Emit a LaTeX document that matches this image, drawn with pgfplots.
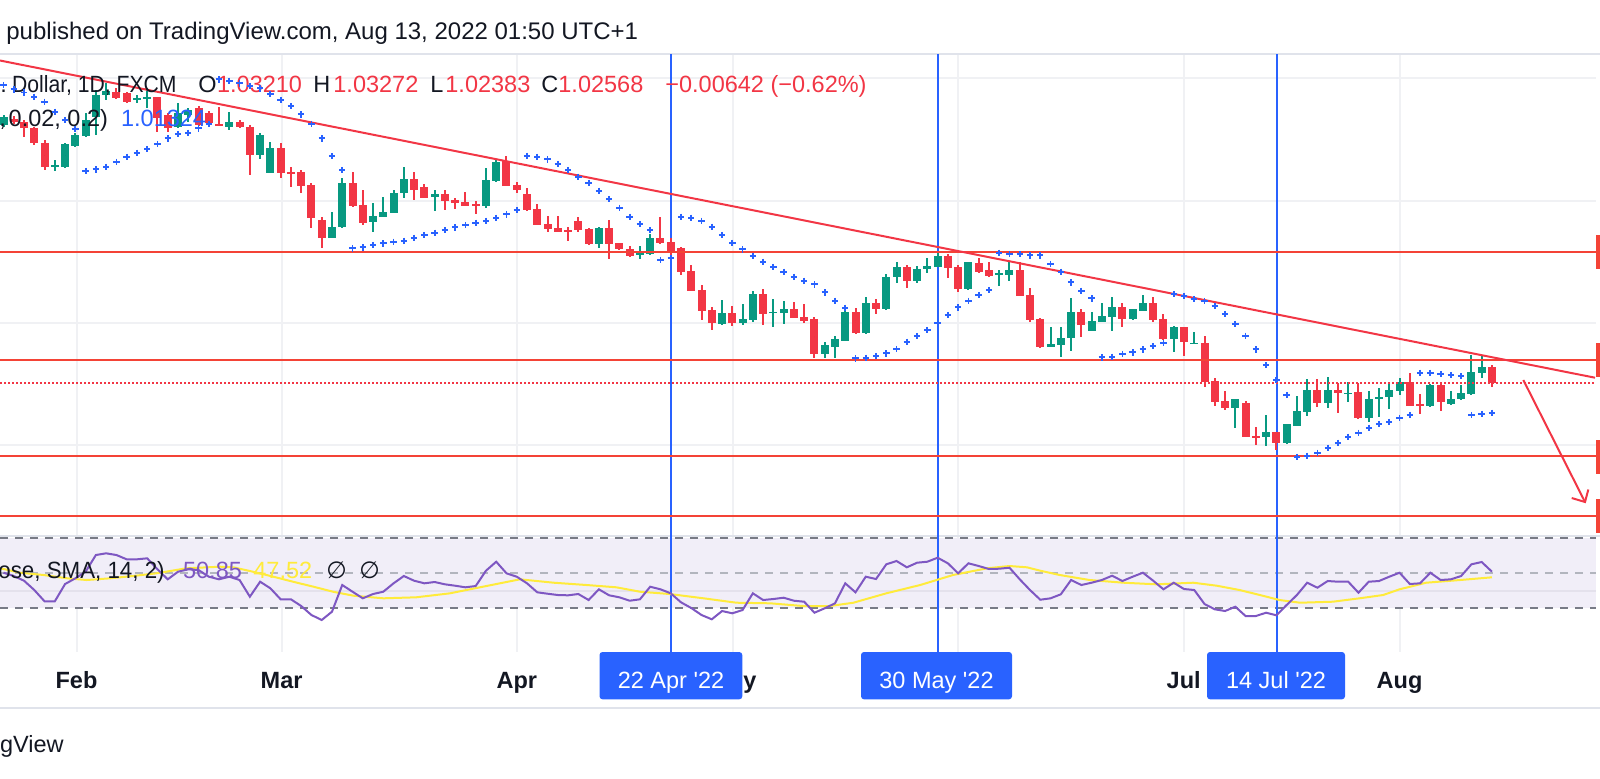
\documentclass[border=0pt]{standalone}
\usepackage{graphicx}
\usepackage{pgfplots}
\pgfplotsset{compat=1.18}
\usepackage{pgfplotstable}
\usepackage{fontspec}
\setmainfont{Liberation Sans}
\newfontfamily\dejavu{DejaVu Sans}
\definecolor{tvgreen}{HTML}{089981}
\definecolor{tvred}{HTML}{F23645}
\definecolor{hred}{HTML}{F44336}
\definecolor{tvblue}{HTML}{2962FF}
\definecolor{tvtext}{HTML}{131722}
\definecolor{rsiP}{HTML}{7E57C2}
\definecolor{smaY}{HTML}{FFEB3B}
\definecolor{rsibg}{HTML}{F1EEF8}
\definecolor{gridc}{HTML}{F0F1F4}
\definecolor{sepc}{HTML}{E0E3EB}
\definecolor{dashd}{HTML}{787B86}
\definecolor{dashl}{HTML}{B2B5BE}
\definecolor{rsigrid}{HTML}{E4E1EC}
\newcommand\tvf{\fontsize{11.75pt}{14pt}\selectfont}
\newcommand\tvh{\fontsize{12pt}{14pt}\selectfont}

% candles: i open high low close (pixel rows of the picture)
\pgfplotstableread{
i o h l c
0 125 115 127 117
5 166.7 160 170.7 165
6 167.3 143 168 144.3
7 146 133.3 147.3 135
8 136 113 137 120
9 116.7 90 135 95
10 95 83.3 100 90.7
13 100 95 103.3 97.7
14 98.7 88.3 108.3 96.7
17 126.7 103 128 113
18 115 108 122 110
22 126.7 111.7 130 121.7
25 155 133 159 135
26 172.7 141.7 173 148.3
32 237.7 211.7 238 227.3
33 227.3 178.3 228 183.3
36 221.7 202.7 231.7 216
37 216.7 196.7 217.3 211.7
38 213.3 190 213.3 192.7
39 193.3 167.3 198.3 179.3
42 197.3 190 210.7 194
47 206 168.3 208.3 180
48 181 159 182 161.7
58 244 227 247.7 227.7
62 255 246 259 252.3
63 254 234.3 254.5 237.7
70 324 300 325 313.3
72 322.7 304 325 319
73 320 290.7 321.7 294
75 312.8 299.3 326.7 311.8
76 312.7 301 324 309
80 354 341.7 358 345
81 347.3 336 358 339.3
82 340.7 306.7 341 311.7
84 333.3 296.7 334 302.7
86 309 274.3 309.5 276.7
87 277.3 261.7 283.3 266.7
89 280.7 266 283 269
90 269.3 257.7 273.3 265.7
91 266.7 253.3 267 255.7
94 289 262 289.5 262.3
97 274.7 270 285.7 273.3
98 275 261.7 280.7 270
102 346.7 327.3 347.3 344.3
103 345 327.3 357.3 338.3
104 338.3 298.3 350.7 311.7
106 330.7 311.7 331 321
107 321.7 302.7 322 316
108 316.7 296.7 330.7 307.3
110 319.3 309 320 309
111 310.7 295 311 302.7
114 339 326 351.7 326.7
116 343.8 331.7 344 343
120 407.7 399 427.7 399.3
123 437.3 415 445.7 432.3
125 443.3 425 443.5 424
126 425.7 396 426 411
127 411.7 379 415.7 390
129 402.7 377.3 407.7 390
131 394 382.3 401.7 392.7
133 417.7 391 421.7 399.3
134 399 388.3 416.7 397.3
135 397.3 383.3 409.3 390
136 390.7 378.3 395 382.3
139 405.7 384.3 407.3 385
141 404 391 404.5 399
142 399.3 385 399.5 392.7
143 394.3 355 395 372.3
144 372.7 356 377.7 367.3
}\greentab

\pgfplotstableread{
i o h l c
1 119 116 124 122
2 121.7 120 136.7 128.3
3 128.3 127 145 143.3
4 142.7 140 170 167.3
11 91.7 88.3 99.3 98.3
12 92.7 91.7 103.3 101.7
15 96.7 96.7 131.7 118.3
16 115 113 131.7 128
19 108 106 126 125
20 113 111 124 123
21 124 106.7 126 125.5
23 121.7 120 128 127.3
24 126.7 125 175 155
27 148.3 143 178 172.7
28 171.7 166.7 186.7 173.3
29 171.7 170 193.3 185.7
30 185 183 228.3 218.3
31 220 216.7 247.7 237.7
34 183.3 171.7 207 206
35 205 190 225 223.3
40 179 172.3 200 190
41 186.7 184.3 198 197.7
43 194 190 210 200.7
44 200 197.7 209 203.3
45 202.3 192.3 206 205.7
46 204.5 201 214.3 205.5
49 160.7 156 186 185.7
50 185 182.3 193.3 190
51 194 188.3 210.7 210
52 209 204.3 225.3 225
53 224 216 231.7 229
54 228 216 232.3 232.3
55 230 227.3 240.7 231
56 220.7 217.3 231.7 230
57 229 228 245 244
59 228.3 220 259.3 244
60 243.3 243 250 249.3
61 249 246 256.7 255.7
64 238.3 217.3 244.3 242.7
65 242.3 237.7 255.7 251.7
66 248.3 246.7 275 271.7
67 271 265 291 290.7
68 290 285 320 310.7
69 310 306.7 330 323.3
71 313.3 306 325.7 322.7
74 294 289 325 314
77 309 302.3 318 317.5
78 316.7 304 322.7 320.7
79 319 316.7 358.3 354
83 311.7 307.7 333.5 333.3
85 303.3 299.3 314 309
88 266.7 265 288.3 280.7
92 255.7 254 278.3 267.7
93 266.7 265 291.7 289
95 262.7 257.7 272.7 271.7
96 270 262.3 277.3 276
99 270 261.7 296 295.7
100 295 288.3 321.7 320
101 319.3 318.3 348.3 346.7
105 311.7 309 336.7 325
109 307.3 302.7 326.7 319.3
112 302.7 297 322 319.7
113 319 314 340 338.7
115 327.3 326.5 356 341.7
117 342.7 336 387.3 381.7
118 381 378.3 406 401.7
119 401 391 410 408.3
121 402.7 401 436.8 436.7
122 436.2 426.7 445 437
124 432.3 432 450 442.7
128 390 379 406.7 402.7
130 390 383.3 413.3 393.3
132 392.3 383.3 419 417.7
137 382.3 373.3 405.7 405.7
138 404.5 394.3 414.3 405.5
140 385 384 410.7 401.7
145 367.3 365 386.7 382.7
}\redtab

% parabolic SAR
\pgfplotstableread{
i s
0 85
1 89.3
2 92.5
3 96.7
4 101.7
5 111.7
6 120
7 129
8 170.7
9 169.3
10 166.7
11 161.7
12 156.7
13 152.7
14 149
15 144
16 138.3
17 134
18 132.7
19 128.3
20 124
21 79.3
22 80.7
23 83.3
24 86
25 88.3
26 94
27 100
28 106
29 114.3
30 124
31 138.3
32 156
33 170
34 248.3
35 247.3
36 245
37 243.3
38 241.7
39 240.7
40 237.7
41 235
42 232.7
43 230
44 227.3
45 225
46 222.7
47 220.7
48 217.7
49 214.3
50 210
51 155.7
52 156.7
53 159.3
54 164
55 170
56 176.7
57 182.7
58 190.7
59 199
60 207.7
61 216.7
62 224
63 230
64 260
65 258.3
66 216.7
67 217.7
68 220.7
69 226.7
70 235
71 242.7
72 249.3
73 255.7
74 261.7
75 266.7
76 271.7
77 276.7
78 280.7
79 284.3
80 292.3
81 300.7
82 307.7
83 358.3
84 357.7
85 356
86 353.3
87 349
88 341.7
89 336
90 330
91 322.7
92 315
93 307.3
94 300.7
95 295
96 290
97 252.7
98 254
99 254
100 255.3
101 255.3
102 264
103 271.7
104 282.3
105 290.7
106 298.3
107 357.3
108 356.7
109 354
110 352.3
111 349.3
112 346
113 342.7
114 294
115 295.7
116 299
117 301
118 305.7
119 314
120 324
121 335.7
122 349.3
123 365
124 380
125 395
126 456.7
127 455.7
128 452.7
129 447.7
130 442.7
131 436.7
132 432.7
133 427.7
134 424
135 421.7
136 417.7
137 415
138 372.7
139 372.7
140 374
141 375
142 376
143 415
144 413.7
145 412.7
}\sartab

% RSI
\pgfplotstableread{
i r
0 572.7
1 576
2 580.7
3 590
4 601.3
5 601.3
6 584
7 578.3
8 571.7
9 555
10 553.3
11 555
12 559.3
13 559.3
14 558.3
15 569.3
16 579.3
17 571.7
18 569.3
19 570
20 576.7
21 579.3
22 576.7
23 580
24 596.7
25 581.7
26 588.3
27 599.3
28 599.3
29 606
30 615
31 620
32 611.7
33 585
34 591.7
35 598.3
36 594
37 591.7
38 583.3
39 576
40 580.7
41 583.3
42 582
43 584.3
44 585.7
45 587.3
46 586
47 570.7
48 561.7
49 573.3
50 576.7
51 583.3
52 592.3
53 593.7
54 595
55 595.3
56 594
57 600
58 589.3
59 595.3
60 597.3
61 600.7
62 599.3
63 586.7
64 589.3
65 593.3
66 602.3
67 608
68 615
69 619.3
70 611
71 613.3
72 610
73 593.3
74 600
75 599
76 597.7
77 600.7
78 601.7
79 612.7
80 608.3
81 603.3
82 583.3
83 592.3
84 576.7
85 579
86 564.3
87 561
88 567.3
89 562.7
90 561.7
91 557.7
92 563.3
93 573.3
94 563.3
95 566
96 569
97 568.7
98 567.7
99 579.3
100 590
101 599.7
102 598.3
103 594.3
104 580
105 585
106 582.7
107 580
108 575.7
109 581
110 576.7
111 572.7
112 580.7
113 589.3
114 582.7
115 589
116 590
117 604
118 609.3
119 611
120 606.7
121 616
122 616
123 612.7
124 615.3
125 605
126 595
127 582.7
128 587.7
129 581
130 581.7
131 581.7
132 592.7
133 581.7
134 581
135 576.7
136 572.7
137 584
138 583.3
139 572.7
140 580
141 579.3
142 576
143 564.3
144 562
145 571.7
}\rsitab

% SMA of RSI
\pgfplotstableread{
i m
-0.3 568.3
1.6 572.7
3.9 575
6.2 578.3
8.1 580
10.4 578.3
12.6 576
14.9 573.3
17.8 568.3
21.1 566.7
22.4 567.3
24.3 571.7
26.3 576.7
28.2 581.7
30.2 586.7
32.1 591.7
34.1 595.7
37 598.3
40.2 597.3
43.5 593.3
46.7 586.7
50.3 579.3
53.6 582.7
56.8 585
59.7 587.3
62 591.7
64.9 594
68.2 598.3
71.4 602.7
74.7 603.3
77.9 606
80.5 606
82.8 602.7
86 593.3
89.3 585
92.5 575
95.8 568.3
98 566
99.7 567.3
101 570.7
102.9 575
105.8 580
109.1 582.7
112.3 584.3
115.9 582.7
118.2 585.7
120.4 590
122.4 595
124.3 600
126.3 602.7
129.5 601.7
132.1 598.3
134.4 595
136 589.3
138.6 582.7
141.9 580
145 577.3
}\smatab

\pgfplotsset{
  candlewick/.style={only marks, mark=*, mark size=0pt,
    mark options={draw=none, fill=none}, forget plot,
    error bars/.cd, y dir=both, y explicit, error mark=none,
    error bar style={draw=#1, line width=1pt}},
  candlebody/.style={only marks, mark=*, mark size=0pt,
    mark options={draw=none, fill=none}, forget plot,
    error bars/.cd, y dir=both, y explicit, error mark=none,
    error bar style={draw=#1, line width=4pt}},
}

\begin{document}
\begin{tikzpicture}
\useasboundingbox (0,0) rectangle (800pt,389pt);
\clip (0,0) rectangle (800pt,389pt);
\begin{axis}[at={(0,0)}, anchor=south west, scale only axis,
  width=800pt, height=389pt, xmin=0, xmax=1600, ymin=0, ymax=778,
  y dir=reverse, axis lines=none, ticks=none, clip=false]

% grid
\pgfplotsinvokeforeach{76.5,281.6,516.8,733,958,1183.7,1399.5}{
  \addplot[gridc, line width=1pt, forget plot] coordinates {(#1,54) (#1,652)};}
\pgfplotsinvokeforeach{78.3,200.5,323,444.7}{
  \addplot[gridc, line width=1pt, forget plot] coordinates {(0,#1) (1596,#1)};}

% RSI pane band
\addplot[fill=rsibg, draw=none] coordinates {(0,538.3) (1596,538.3) (1596,607.7) (0,607.7)} -- cycle;
\addplot[rsigrid, line width=1pt] coordinates {(0,590.7) (1596,590.7)};
\addplot[dashd, line width=1pt, dash pattern=on 4pt off 3.5pt] coordinates {(0,538.3) (1596,538.3)};
\addplot[dashd, line width=1pt, dash pattern=on 4pt off 3.5pt] coordinates {(0,607.7) (1596,607.7)};
\addplot[dashl, line width=1pt, dash pattern=on 4pt off 3.5pt] coordinates {(0,572.7) (1596,572.7)};

% separators
\addplot[sepc, line width=1pt] coordinates {(0,53.8) (1600,53.8)};
\addplot[sepc, line width=1pt] coordinates {(0,536) (1600,536)};
\addplot[sepc, line width=1pt] coordinates {(0,707.7) (1600,707.7)};

% blue vertical markers
\pgfplotsinvokeforeach{671,937.8,1277}{
  \addplot[tvblue, line width=1pt, forget plot] coordinates {(#1,54) (#1,652)};}

% candles
\addplot[candlewick=tvgreen] table[x expr={3.5+10.265*\thisrow{i}}, y expr={(\thisrow{h}+\thisrow{l})/2}, y error expr={(\thisrow{l}-\thisrow{h})/2}] {\greentab};
\addplot[candlewick=tvred] table[x expr={3.5+10.265*\thisrow{i}}, y expr={(\thisrow{h}+\thisrow{l})/2}, y error expr={(\thisrow{l}-\thisrow{h})/2}] {\redtab};
\addplot[candlebody=tvgreen] table[x expr={3.5+10.265*\thisrow{i}}, y expr={(\thisrow{o}+\thisrow{c})/2}, y error expr={max(abs(\thisrow{o}-\thisrow{c})/2,0.8)}] {\greentab};
\addplot[candlebody=tvred] table[x expr={3.5+10.265*\thisrow{i}}, y expr={(\thisrow{o}+\thisrow{c})/2}, y error expr={max(abs(\thisrow{o}-\thisrow{c})/2,0.8)}] {\redtab};

% parabolic SAR
\addplot[only marks, mark=+, mark size=1.6pt, tvblue, line width=0.9pt] table[x expr={3.5+10.265*\thisrow{i}}, y=s] {\sartab};

% horizontal levels
\pgfplotsinvokeforeach{251.6,359.6,456.4,515.7}{
  \addplot[hred, line width=1pt, forget plot] coordinates {(0,#1) (1596,#1)};}
\addplot[tvred, line width=1pt, dash pattern=on 1pt off 1pt] coordinates {(0,382.5) (1596,382.5)};
% price-scale tags (cropped)
\addplot[fill=hred, draw=none] coordinates {(1596,235) (1600,235) (1600,268.5) (1596,268.5)} -- cycle;
\addplot[fill=hred, draw=none] coordinates {(1596,343) (1600,343) (1600,376.8) (1596,376.8)} -- cycle;
\addplot[fill=hred, draw=none] coordinates {(1596,440) (1600,440) (1600,473.6) (1596,473.6)} -- cycle;
\addplot[fill=hred, draw=none] coordinates {(1596,499) (1600,499) (1600,532.5) (1596,532.5)} -- cycle;

% trend line and arrow
\addplot[tvred, line width=1pt] coordinates {(0,60.5) (1595,377.7)};
\addplot[tvred, line width=1pt] coordinates {(1523.3,380) (1585,502)};
\addplot[tvred, line width=1pt, line join=miter] coordinates {(1571.7,498) (1585,502) (1588.3,489.5)};

% RSI and its SMA
\addplot[smaY, line width=1pt] table[x expr={3.5+10.265*\thisrow{i}}, y=m] {\smatab};
\addplot[rsiP, line width=1pt] table[x expr={3.5+10.265*\thisrow{i}}, y=r] {\rsitab};

% header and legends
\node[anchor=base west, text=tvtext, font=\tvh, inner sep=0pt] at (axis cs:6,39.3) {published on TradingView.com, Aug 13, 2022 01:50 UTC+1};
\node[anchor=base west, text=tvtext, font=\tvf, inner sep=0pt] at (axis cs:0,92.7) {.};
\node[anchor=base west, text=tvtext, font=\tvf, inner sep=0pt] at (axis cs:11.7,92.7) {\scalebox{0.9}[1]{Dollar, 1D, FXCM}};
\node[anchor=base west, text=tvtext, font=\tvf, inner sep=0pt] at (axis cs:198,92.7) {O};
\node[anchor=base west, text=tvred, font=\tvf, inner sep=0pt] at (axis cs:216.7,92.7) {1.03210};
\node[anchor=base west, text=tvtext, font=\tvf, inner sep=0pt] at (axis cs:313,92.7) {H};
\node[anchor=base west, text=tvred, font=\tvf, inner sep=0pt] at (axis cs:333,92.7) {1.03272};
\node[anchor=base west, text=tvtext, font=\tvf, inner sep=0pt] at (axis cs:430,92.7) {L};
\node[anchor=base west, text=tvred, font=\tvf, inner sep=0pt] at (axis cs:445,92.7) {1.02383};
\node[anchor=base west, text=tvtext, font=\tvf, inner sep=0pt] at (axis cs:541,92.7) {C};
\node[anchor=base west, text=tvred, font=\tvf, inner sep=0pt] at (axis cs:558,92.7) {1.02568};
\node[anchor=base west, text=tvred, font=\tvf, inner sep=0pt] at (axis cs:665,92.7) {−0.00642 (−0.62\%)};
\node[anchor=base west, text=tvtext, font=\tvf, inner sep=0pt] at (axis cs:-1,126.7) {,};
\node[anchor=base west, text=tvtext, font=\tvf, inner sep=0pt] at (axis cs:8.3,126.7) {0.02, 0.2)};
\node[anchor=base west, text=tvblue, font=\tvf, inner sep=0pt] at (axis cs:120.7,126.7) {1.01324};

\node[anchor=base west, text=tvtext, font=\tvf, inner sep=0pt] at (axis cs:-2,578.3) {\scalebox{0.95}[1]{ose, SMA, 14, 2)}};
\node[anchor=base west, text=rsiP, font=\tvf, inner sep=0pt] at (axis cs:182.7,578.3) {50.85};
\node[anchor=base west, text=smaY, font=\tvf, inner sep=0pt] at (axis cs:253,578.3) {47.52};
\node[anchor=base west, text=tvtext, font=\tvf\dejavu, inner sep=0pt] at (axis cs:326,578.3) {∅};
\node[anchor=base west, text=tvtext, font=\tvf\dejavu, inner sep=0pt] at (axis cs:359,578.3) {∅};

% time axis labels
\node[anchor=base, text=tvtext, font=\tvf\bfseries, inner sep=0pt] at (axis cs:76.5,688) {Feb};
\node[anchor=base, text=tvtext, font=\tvf\bfseries, inner sep=0pt] at (axis cs:281.6,688) {Mar};
\node[anchor=base, text=tvtext, font=\tvf\bfseries, inner sep=0pt] at (axis cs:516.8,688) {Apr};
\node[anchor=base west, text=tvtext, font=\tvf\bfseries, inner sep=0pt] at (axis cs:743,688) {y};
\node[anchor=base, text=tvtext, font=\tvf\bfseries, inner sep=0pt] at (axis cs:1183.7,688) {Jul};
\node[anchor=base, text=tvtext, font=\tvf\bfseries, inner sep=0pt] at (axis cs:1399.5,688) {Aug};

% date tags
\addplot[fill=tvblue, draw=none, rounded corners=1.5pt] coordinates {(599.5,652) (742.3,652) (742.3,699.3) (599.5,699.3)} -- cycle;
\addplot[fill=tvblue, draw=none, rounded corners=1.5pt] coordinates {(861,652) (1012,652) (1012,699.3) (861,699.3)} -- cycle;
\addplot[fill=tvblue, draw=none, rounded corners=1.5pt] coordinates {(1207,652) (1345,652) (1345,699.3) (1207,699.3)} -- cycle;
\node[anchor=base, text=white, font=\tvf, inner sep=0pt] at (axis cs:671,688) {22 Apr \textquotesingle22};
\node[anchor=base, text=white, font=\tvf, inner sep=0pt] at (axis cs:936.5,688) {30 May \textquotesingle22};
\node[anchor=base, text=white, font=\tvf, inner sep=0pt] at (axis cs:1276,688) {14 Jul \textquotesingle22};

% footer
\node[anchor=base east, text=tvtext, font=\tvf, inner sep=0pt] at (axis cs:64,752.7) {gView};
\end{axis}
\end{tikzpicture}
\end{document}
